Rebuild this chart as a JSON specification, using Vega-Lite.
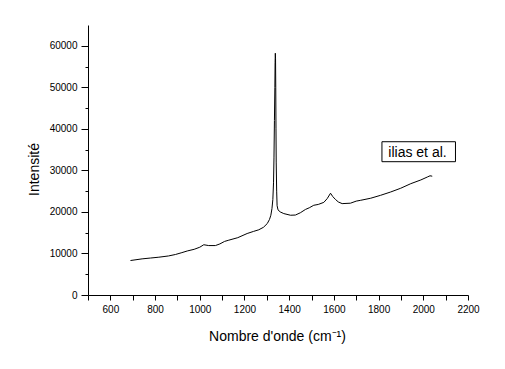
{
  "$schema": "https://vega.github.io/schema/vega-lite/v6.json",
  "width": 380,
  "height": 270,
  "autosize": {"type": "none"},
  "padding": {"left": 88, "top": 25, "right": 37, "bottom": 74},
  "background": "white",
  "config": {"view": {"stroke": null}, "font": "Liberation Sans"},
  "datasets": {
    "spectrum": [
      {"x": 690, "y": 8300}, {"x": 742, "y": 8700}, {"x": 780, "y": 8900}, {"x": 817, "y": 9100},
      {"x": 860, "y": 9400}, {"x": 891, "y": 9750}, {"x": 920, "y": 10200}, {"x": 944, "y": 10600},
      {"x": 975, "y": 11000}, {"x": 1000, "y": 11500}, {"x": 1018, "y": 12100}, {"x": 1040, "y": 11900},
      {"x": 1070, "y": 11900}, {"x": 1090, "y": 12300}, {"x": 1111, "y": 12900}, {"x": 1130, "y": 13200},
      {"x": 1170, "y": 13800}, {"x": 1212, "y": 14800}, {"x": 1240, "y": 15300}, {"x": 1264, "y": 15700},
      {"x": 1285, "y": 16300}, {"x": 1302, "y": 17200}, {"x": 1312, "y": 18200}, {"x": 1318, "y": 19200},
      {"x": 1323, "y": 20800}, {"x": 1327, "y": 23000}, {"x": 1330, "y": 27000}, {"x": 1332, "y": 33000},
      {"x": 1334, "y": 42000}, {"x": 1336, "y": 50000}, {"x": 1337, "y": 56000}, {"x": 1338, "y": 58200},
      {"x": 1339, "y": 57000}, {"x": 1340, "y": 50000}, {"x": 1341, "y": 40000}, {"x": 1342, "y": 32000},
      {"x": 1344, "y": 25000}, {"x": 1346, "y": 21500}, {"x": 1350, "y": 20500}, {"x": 1360, "y": 20000},
      {"x": 1376, "y": 19600}, {"x": 1406, "y": 19200}, {"x": 1428, "y": 19250}, {"x": 1450, "y": 19800},
      {"x": 1473, "y": 20600}, {"x": 1490, "y": 21000}, {"x": 1510, "y": 21600}, {"x": 1530, "y": 21800},
      {"x": 1555, "y": 22300}, {"x": 1570, "y": 23200}, {"x": 1585, "y": 24500}, {"x": 1595, "y": 23700},
      {"x": 1607, "y": 23000}, {"x": 1620, "y": 22400}, {"x": 1637, "y": 22000}, {"x": 1674, "y": 22100},
      {"x": 1700, "y": 22600}, {"x": 1720, "y": 22800}, {"x": 1765, "y": 23300}, {"x": 1809, "y": 24000},
      {"x": 1854, "y": 24800}, {"x": 1899, "y": 25700}, {"x": 1944, "y": 26800}, {"x": 1989, "y": 27700},
      {"x": 2018, "y": 28400}, {"x": 2030, "y": 28700}, {"x": 2040, "y": 28600}
    ],
    "box": [{"x0": 1815, "x1": 2144, "y0": 32090, "y1": 36900}],
    "label": [{"x": 1974, "y": 34300, "text": "ilias et al."}]
  },
  "resolve": {"axis": {"x": "independent", "y": "independent"}},
  "layer": [
    {
      "data": {"name": "spectrum"},
      "mark": {"type": "line", "color": "black", "strokeWidth": 1},
      "encoding": {
        "x": {
          "field": "x", "type": "quantitative", "title": "Nombre d'onde (cm⁻¹)",
          "scale": {"domain": [500, 2200], "nice": false, "zero": false},
          "axis": {
            "orient": "bottom",
            "values": [600,800,1000,1200,1400,1600,1800,2000,2200],
            "format": "d", "grid": false, "labelOverlap": false,
            "domainColor": "black", "tickColor": "black",
            "tickSize": 5,
            "labelFontSize": 10, "labelColor": "black", "labelPadding": 4, "labelFlush": false,
            "titleFontSize": 14, "titleFontWeight": "normal", "titleColor": "black",
            "titleBaseline": "top", "titleY": 34, "titleX": 189
          }
        },
        "y": {
          "field": "y", "type": "quantitative", "title": "Intensité",
          "scale": {"domain": [0, 65000], "nice": false},
          "axis": {
            "orient": "left",
            "values": [0,10000,20000,30000,40000,50000,60000],
            "format": "d", "grid": false, "labelOverlap": false,
            "domainColor": "black", "tickColor": "black",
            "tickSize": 7,
            "labelFontSize": 10, "labelColor": "black", "labelPadding": 4, "labelFlush": false,
            "titleFontSize": 14, "titleFontWeight": "normal", "titleColor": "black",
            "titleAngle": -90, "titleBaseline": "middle", "titleAlign": "center",
            "titleX": -54, "titleY": 144
          }
        }
      }
    },
    {
      "data": {"name": "box"},
      "mark": {"type": "rect", "fill": "white", "stroke": "black", "strokeWidth": 1},
      "encoding": {
        "x": {
          "field": "x0", "type": "quantitative", "title": null,
          "axis": {
            "orient": "bottom",
            "values": [500,700,900,1100,1300,1500,1700,1900,2100],
            "labels": false, "domain": false, "grid": false, "title": null,
            "tickColor": "black", "tickSize": 5
          }
        },
        "x2": {"field": "x1"},
        "y": {
          "field": "y0", "type": "quantitative", "title": null,
          "axis": {
            "orient": "left",
            "values": [5000,15000,25000,35000,45000,55000],
            "labels": false, "domain": false, "grid": false, "title": null,
            "tickColor": "black", "tickSize": 3
          }
        },
        "y2": {"field": "y1"}
      }
    },
    {
      "data": {"name": "label"},
      "mark": {"type": "text", "fontSize": 14, "color": "black", "align": "center", "baseline": "middle"},
      "encoding": {
        "x": {"field": "x", "type": "quantitative", "axis": null},
        "y": {"field": "y", "type": "quantitative", "axis": null},
        "text": {"field": "text"}
      }
    }
  ]
}
